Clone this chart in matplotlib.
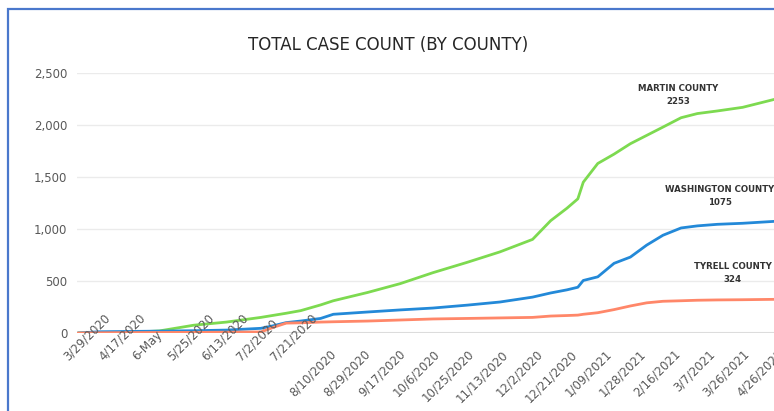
import matplotlib.pyplot as plt
from matplotlib.patches import Rectangle

# category index (one per reported day) and case totals
days = [0, 12, 29, 45, 64, 82, 101, 108, 115, 123, 134, 141, 160, 178, 196, 215, 233,
        251, 261, 270, 276, 279, 287, 296, 305, 314, 323, 333, 342, 353, 367, 386]
martin = [0, 2, 6, 20, 75, 105, 150, 170, 190, 215, 270, 310, 390, 475, 580, 680, 780,
          900, 1080, 1200, 1290, 1450, 1630, 1720, 1820, 1900, 1980, 2070, 2110, 2135, 2170, 2253]
washington = [0, 12, 15, 18, 22, 28, 45, 70, 100, 115, 140, 180, 202, 222, 240, 268, 298,
              345, 385, 415, 440, 505, 540, 670, 730, 845, 940, 1010, 1030, 1045, 1055, 1075]
tyrell = [0, 2, 4, 5, 6, 8, 10, 55, 95, 98, 105, 108, 115, 125, 135, 140, 145,
          150, 163, 168, 172, 180, 195, 225, 260, 290, 305, 310, 315, 318, 320, 324]

tick_pos = [6 + 19 * i for i in range(21)]
tick_labels = ["3/29/2020", "4/17/2020", "6-May", "5/25/2020", "6/13/2020", "7/2/2020",
               "7/21/2020", "8/10/2020", "8/29/2020", "9/17/2020", "10/6/2020",
               "10/25/2020", "11/13/2020", "12/2/2020", "12/21/2020", "1/09/2021",
               "1/28/2021", "2/16/2021", "3/7/2021", "3/26/2021", "4/26/2021"]

fig = plt.figure(figsize=(7.74, 4.11), dpi=100)
fig.patch.set_facecolor("white")

# chart area outline (cut off on the right and bottom like the screenshot)
fig.patches.append(Rectangle((8 / 774, -0.1), 1.2, (411 - 9) / 411 + 0.1,
                             transform=fig.transFigure, fill=False,
                             edgecolor="#4A78CC", linewidth=1.6))

ax = fig.add_axes([77 / 774, (411 - 333) / 411, 701 / 774, 260 / 411])

ax.plot(days, martin, color="#7DDA50", linewidth=2, solid_capstyle="round")
ax.plot(days, washington, color="#2389D8", linewidth=2, solid_capstyle="round")
ax.plot(days, tyrell, color="#FF8769", linewidth=2, solid_capstyle="round")

ax.set_xlim(-0.5, 386.5)
ax.set_ylim(0, 2500)
ax.set_yticks(range(0, 2501, 500))
ax.set_yticklabels([f"{v:,}" for v in range(0, 2501, 500)])
ax.tick_params(axis="y", length=0, pad=7, labelsize=8.5, labelcolor="#595959")
ax.set_xticks([])
ax.grid(axis="y", color="#EBEBEB", linewidth=1)
ax.axhline(0, color="#D9D9D9", linewidth=1.5, zorder=0)
ax.set_axisbelow(True)
for s in ax.spines.values():
    s.set_visible(False)

# x labels: the first few sit higher (anchored at their start), the rest hang from the tick
for i, (p, lab) in enumerate(zip(tick_pos, tick_labels)):
    if i < 7:
        ax.annotate(lab, xy=(p, 0), xytext=(-13, -21.5), textcoords="offset points",
                    rotation=45, rotation_mode="anchor", ha="left", va="bottom",
                    fontsize=8.5, color="#595959", annotation_clip=False)
    else:
        ax.annotate(lab, xy=(p, 0), xytext=(0, -10.5), textcoords="offset points",
                    rotation=45, rotation_mode="anchor", ha="right", va="top",
                    fontsize=8.5, color="#595959", annotation_clip=False)

fig.text(388 / 774, (411 - 45) / 411, "TOTAL CASE COUNT (BY COUNTY)", ha="center",
         va="center", fontsize=12, color="#262626")

lab_kw = dict(ha="center", va="center", fontsize=6.2, fontweight="bold",
              color="#333333", linespacing=1.6)
fig.text(678 / 774, (411 - 95) / 411, f"MARTIN COUNTY\n{martin[-1]}", **lab_kw)
fig.text(720 / 774, (411 - 196) / 411, f"WASHINGTON COUNTY\n{washington[-1]}", **lab_kw)
fig.text(733 / 774, (411 - 273) / 411, f"TYRELL COUNTY\n{tyrell[-1]}", **lab_kw)

fig.savefig("out.png", dpi=100)
